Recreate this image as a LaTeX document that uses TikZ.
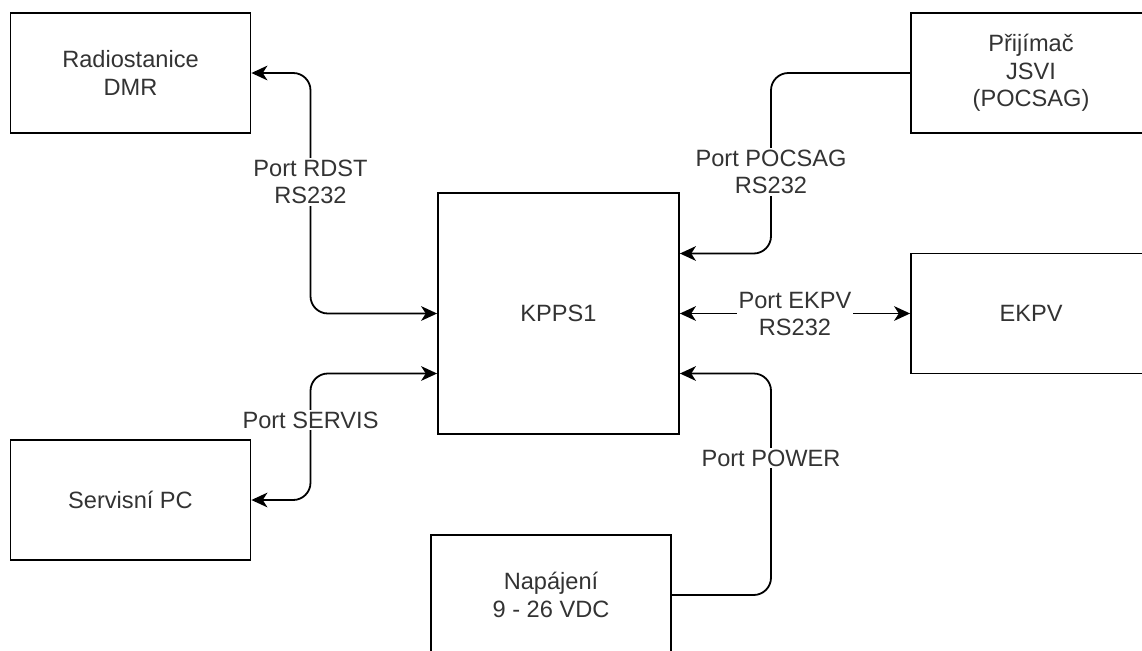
\documentclass[tikz,border=0pt]{standalone}
\usepackage{fontspec}
\setmainfont{Liberation Sans}
\usetikzlibrary{arrows.meta}
\begin{document}
\begin{tikzpicture}[x=0.75pt,y=-0.75pt,
  txt/.style={text=black!80, font=\fontsize{17.7}{20.8}\selectfont, align=center},
  box/.style={txt, draw=black, line width=1.35pt, minimum width=180pt, minimum height=90pt, inner sep=0pt},
  conn/.style={line width=1.35pt, rounded corners=13pt},
  tipa/.tip={Stealth[length=12pt,width=11pt,inset=3.5pt,sharp]},
  onearrow/.style={-tipa},
  twoarrow/.style={tipa-tipa},
  lbl/.style={txt, fill=white, inner sep=1.5pt}]
\useasboundingbox (0,0) rectangle (1142,650);
\clip (0,0) rectangle (1142,650);
\fill[white] (0,0) rectangle (1142,650);

\node[box] (rad) at (130.5,73) {Radiostanice\\DMR};
\node[box, minimum width=180.75pt, minimum height=180.75pt] (kpps) at (558.5,313.5) {KPPS1};
\node[box] (prij) at (1031,73) {Přijímač\\JSVI\\(POCSAG)};
\node[box] (ekpv) at (1031,313.5) {EKPV};
\node[box] (serv) at (130.5,500) {Servisní PC};
\node[box] (nap) at (551,595) {Napájení\\9 - 26 VDC};

\coordinate (xL) at (310.5,0);
\coordinate (xR) at (771,0);

% RDST
\draw[conn, twoarrow] (rad.east) -- (rad.east -| xL) -- (kpps.west -| xL) -- (kpps.west);
% SERVIS
\draw[conn, twoarrow] (serv.east) -- (serv.east -| xL) -- ([yshift=-45pt]kpps.west -| xL) -- ([yshift=-45pt]kpps.west);
% POCSAG
\draw[conn, onearrow] (prij.west) -- (prij.west -| xR) -- ([yshift=45pt]kpps.east -| xR) -- ([yshift=45pt]kpps.east);
% EKPV
\draw[line width=1.35pt, twoarrow] (kpps.east) -- (ekpv.west);
% POWER
\draw[conn, onearrow] (nap.east) -- (nap.east -| xR) -- ([yshift=-45pt]kpps.east -| xR) -- ([yshift=-45pt]kpps.east);

\node[lbl] (lrdst) at (310.5,182) {Port RDST\\RS232};
\node[lbl] (lserv) at (310.5,420) {Port SERVIS};
\node[lbl] (lpoc) at (771,172) {Port POCSAG\\RS232};
\node[lbl] (lekpv) at (795,314) {Port EKPV\\RS232};
\node[lbl] (lpow) at (771,458) {Port POWER};
\end{tikzpicture}
\end{document}
